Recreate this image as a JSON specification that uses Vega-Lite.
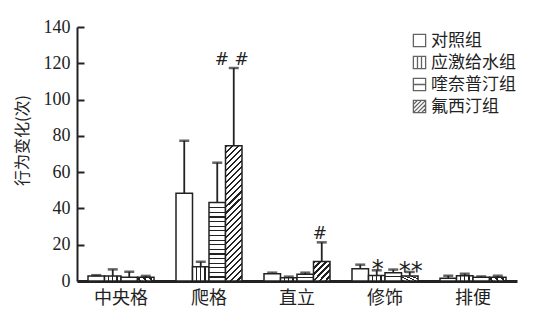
{
  "$schema": "https://vega.github.io/schema/vega-lite/v6.json",
  "width": 440,
  "height": 254,
  "autosize": "none",
  "padding": {"left": 77, "top": 27, "right": 25, "bottom": 41},
  "background": "white",
  "config": {
    "view": {"stroke": null},
    "axisY": {"labelOverlap": false, "labelFlush": false, "labelBound": false, "grid": false, "tickSize": -7, "tickWidth": 2, "tickColor": "#222", "domainWidth": 2, "domainColor": "#222", "labelFont": "Liberation Serif", "labelFontSize": 18, "labelColor": "#222", "labelPadding": 14}
  },
  "data": {
    "values": [
      {"cat": "中央格", "group": "对照组", "value": 2.8, "upper": 3.2, "sig": ""},
      {"cat": "中央格", "group": "应激给水组", "value": 2.8, "upper": 6.4, "sig": ""},
      {"cat": "中央格", "group": "喹奈普汀组", "value": 2.0, "upper": 5.1, "sig": ""},
      {"cat": "中央格", "group": "氟西汀组", "value": 2.0, "upper": 2.8, "sig": ""},
      {"cat": "爬格", "group": "对照组", "value": 48.3, "upper": 77.3, "sig": ""},
      {"cat": "爬格", "group": "应激给水组", "value": 7.9, "upper": 10.6, "sig": ""},
      {"cat": "爬格", "group": "喹奈普汀组", "value": 43.2, "upper": 65.2, "sig": ""},
      {"cat": "爬格", "group": "氟西汀组", "value": 74.6, "upper": 117.4, "sig": "# #"},
      {"cat": "直立", "group": "对照组", "value": 4.0, "upper": 4.6, "sig": ""},
      {"cat": "直立", "group": "应激给水组", "value": 1.8, "upper": 2.4, "sig": ""},
      {"cat": "直立", "group": "喹奈普汀组", "value": 3.7, "upper": 4.6, "sig": ""},
      {"cat": "直立", "group": "氟西汀组", "value": 10.8, "upper": 21.3, "sig": "#"},
      {"cat": "修饰", "group": "对照组", "value": 6.8, "upper": 9.0, "sig": ""},
      {"cat": "修饰", "group": "应激给水组", "value": 3.1, "upper": 5.9, "sig": "*"},
      {"cat": "修饰", "group": "喹奈普汀组", "value": 4.6, "upper": 6.3, "sig": ""},
      {"cat": "修饰", "group": "氟西汀组", "value": 2.8, "upper": 5.0, "sig": "**"},
      {"cat": "排便", "group": "对照组", "value": 1.5, "upper": 2.9, "sig": ""},
      {"cat": "排便", "group": "应激给水组", "value": 2.9, "upper": 4.0, "sig": ""},
      {"cat": "排便", "group": "喹奈普汀组", "value": 2.0, "upper": 2.5, "sig": ""},
      {"cat": "排便", "group": "氟西汀组", "value": 2.0, "upper": 2.9, "sig": ""}
    ]
  },
  "encoding": {
    "x": {
      "field": "cat", "type": "nominal", "sort": ["中央格", "爬格", "直立", "修饰", "排便"],
      "scale": {"paddingInner": 0.25, "paddingOuter": 0.125},
      "axis": {"title": null, "labelAngle": 0, "ticks": false, "domainWidth": 3, "domainColor": "#222", "labelFont": "Noto Sans CJK SC", "labelFontSize": 18, "labelColor": "#222", "labelPadding": 8}
    },
    "xOffset": {
      "field": "group", "type": "nominal", "sort": ["对照组", "应激给水组", "喹奈普汀组", "氟西汀组"],
      "scale": {"paddingInner": 0, "paddingOuter": 0}
    }
  },
  "layer": [
    {
      "mark": {"type": "bar", "stroke": "#222", "strokeWidth": 1.5},
      "encoding": {
        "y": {
          "field": "value", "type": "quantitative",
          "scale": {"domain": [0, 140], "nice": false},
          "axis": {
            "values": [0, 20, 40, 60, 80, 100, 120, 140], "labelOverlap": false, "labelSeparation": 0, "labelBound": false,
            "title": "行为变化(次)", "titleFont": "Noto Sans CJK SC", "titleFontSize": 16, "titleFontWeight": "normal", "titleColor": "#222",
            "titleX": -55, "titleY": 113, "titleBaseline": "middle", "titleAlign": "center", "titleAngle": -90
          }
        },
        "fill": {
          "value": "#ffffff",
          "condition": [
            {"test": "datum.group === '应激给水组'", "value": {"gradient": "linear", "x1": 0, "y1": 0, "x2": 1, "y2": 0, "stops": [
                {"offset": 0, "color": "#fff"}, {"offset": 0.22, "color": "#fff"}, {"offset": 0.22, "color": "#222"}, {"offset": 0.29, "color": "#222"}, {"offset": 0.29, "color": "#fff"},
                {"offset": 0.47, "color": "#fff"}, {"offset": 0.47, "color": "#222"}, {"offset": 0.54, "color": "#222"}, {"offset": 0.54, "color": "#fff"},
                {"offset": 0.72, "color": "#fff"}, {"offset": 0.72, "color": "#222"}, {"offset": 0.79, "color": "#222"}, {"offset": 0.79, "color": "#fff"}, {"offset": 1, "color": "#fff"}]}},
            {"test": "datum.cat === '爬格' && datum.group === '喹奈普汀组'", "value": {"gradient": "linear", "x1": 0, "y1": 0, "x2": 0, "y2": 1, "stops": [
              {"offset": 0, "color": "#fff"},
              {"offset": 0.0588, "color": "#fff"}, {"offset": 0.0588, "color": "#222"}, {"offset": 0.0738, "color": "#222"}, {"offset": 0.0738, "color": "#fff"},
              {"offset": 0.1176, "color": "#fff"}, {"offset": 0.1176, "color": "#222"}, {"offset": 0.1326, "color": "#222"}, {"offset": 0.1326, "color": "#fff"},
              {"offset": 0.1765, "color": "#fff"}, {"offset": 0.1765, "color": "#222"}, {"offset": 0.1915, "color": "#222"}, {"offset": 0.1915, "color": "#fff"},
              {"offset": 0.2353, "color": "#fff"}, {"offset": 0.2353, "color": "#222"}, {"offset": 0.2503, "color": "#222"}, {"offset": 0.2503, "color": "#fff"},
              {"offset": 0.2941, "color": "#fff"}, {"offset": 0.2941, "color": "#222"}, {"offset": 0.3091, "color": "#222"}, {"offset": 0.3091, "color": "#fff"},
              {"offset": 0.3529, "color": "#fff"}, {"offset": 0.3529, "color": "#222"}, {"offset": 0.3679, "color": "#222"}, {"offset": 0.3679, "color": "#fff"},
              {"offset": 0.4118, "color": "#fff"}, {"offset": 0.4118, "color": "#222"}, {"offset": 0.4268, "color": "#222"}, {"offset": 0.4268, "color": "#fff"},
              {"offset": 0.4706, "color": "#fff"}, {"offset": 0.4706, "color": "#222"}, {"offset": 0.4856, "color": "#222"}, {"offset": 0.4856, "color": "#fff"},
              {"offset": 0.5294, "color": "#fff"}, {"offset": 0.5294, "color": "#222"}, {"offset": 0.5444, "color": "#222"}, {"offset": 0.5444, "color": "#fff"},
              {"offset": 0.5882, "color": "#fff"}, {"offset": 0.5882, "color": "#222"}, {"offset": 0.6032, "color": "#222"}, {"offset": 0.6032, "color": "#fff"},
              {"offset": 0.6471, "color": "#fff"}, {"offset": 0.6471, "color": "#222"}, {"offset": 0.6621, "color": "#222"}, {"offset": 0.6621, "color": "#fff"},
              {"offset": 0.7059, "color": "#fff"}, {"offset": 0.7059, "color": "#222"}, {"offset": 0.7209, "color": "#222"}, {"offset": 0.7209, "color": "#fff"},
              {"offset": 0.7647, "color": "#fff"}, {"offset": 0.7647, "color": "#222"}, {"offset": 0.7797, "color": "#222"}, {"offset": 0.7797, "color": "#fff"},
              {"offset": 0.8235, "color": "#fff"}, {"offset": 0.8235, "color": "#222"}, {"offset": 0.8385, "color": "#222"}, {"offset": 0.8385, "color": "#fff"},
              {"offset": 0.8824, "color": "#fff"}, {"offset": 0.8824, "color": "#222"}, {"offset": 0.8974, "color": "#222"}, {"offset": 0.8974, "color": "#fff"},
              {"offset": 0.9412, "color": "#fff"}, {"offset": 0.9412, "color": "#222"}, {"offset": 0.9562, "color": "#222"}, {"offset": 0.9562, "color": "#fff"},
              {"offset": 1, "color": "#fff"}]}},
            {"test": "datum.group === '喹奈普汀组'", "value": {"gradient": "linear", "x1": 0, "y1": 0, "x2": 0, "y2": 1, "stops": [
                {"offset": 0, "color": "#fff"}, {"offset": 0.43, "color": "#fff"}, {"offset": 0.43, "color": "#222"}, {"offset": 0.57, "color": "#222"}, {"offset": 0.57, "color": "#fff"}, {"offset": 1, "color": "#fff"}]}},
            {"test": "datum.cat === '爬格' && datum.group === '氟西汀组'", "value": {"gradient": "linear", "x1": 0, "y1": 0, "x2": 0.134, "y2": 1.105, "stops": [
              {"offset": 0, "color": "#222"}, {"offset": 0.014, "color": "#222"}, {"offset": 0.014, "color": "#fff"}, {"offset": 0.04, "color": "#fff"},
              {"offset": 0.04, "color": "#222"}, {"offset": 0.054, "color": "#222"}, {"offset": 0.054, "color": "#fff"}, {"offset": 0.08, "color": "#fff"},
              {"offset": 0.08, "color": "#222"}, {"offset": 0.094, "color": "#222"}, {"offset": 0.094, "color": "#fff"}, {"offset": 0.12, "color": "#fff"},
              {"offset": 0.12, "color": "#222"}, {"offset": 0.134, "color": "#222"}, {"offset": 0.134, "color": "#fff"}, {"offset": 0.16, "color": "#fff"},
              {"offset": 0.16, "color": "#222"}, {"offset": 0.174, "color": "#222"}, {"offset": 0.174, "color": "#fff"}, {"offset": 0.2, "color": "#fff"},
              {"offset": 0.2, "color": "#222"}, {"offset": 0.214, "color": "#222"}, {"offset": 0.214, "color": "#fff"}, {"offset": 0.24, "color": "#fff"},
              {"offset": 0.24, "color": "#222"}, {"offset": 0.254, "color": "#222"}, {"offset": 0.254, "color": "#fff"}, {"offset": 0.28, "color": "#fff"},
              {"offset": 0.28, "color": "#222"}, {"offset": 0.294, "color": "#222"}, {"offset": 0.294, "color": "#fff"}, {"offset": 0.32, "color": "#fff"},
              {"offset": 0.32, "color": "#222"}, {"offset": 0.334, "color": "#222"}, {"offset": 0.334, "color": "#fff"}, {"offset": 0.36, "color": "#fff"},
              {"offset": 0.36, "color": "#222"}, {"offset": 0.374, "color": "#222"}, {"offset": 0.374, "color": "#fff"}, {"offset": 0.4, "color": "#fff"},
              {"offset": 0.4, "color": "#222"}, {"offset": 0.414, "color": "#222"}, {"offset": 0.414, "color": "#fff"}, {"offset": 0.44, "color": "#fff"},
              {"offset": 0.44, "color": "#222"}, {"offset": 0.454, "color": "#222"}, {"offset": 0.454, "color": "#fff"}, {"offset": 0.48, "color": "#fff"},
              {"offset": 0.48, "color": "#222"}, {"offset": 0.494, "color": "#222"}, {"offset": 0.494, "color": "#fff"}, {"offset": 0.52, "color": "#fff"},
              {"offset": 0.52, "color": "#222"}, {"offset": 0.534, "color": "#222"}, {"offset": 0.534, "color": "#fff"}, {"offset": 0.56, "color": "#fff"},
              {"offset": 0.56, "color": "#222"}, {"offset": 0.574, "color": "#222"}, {"offset": 0.574, "color": "#fff"}, {"offset": 0.6, "color": "#fff"},
              {"offset": 0.6, "color": "#222"}, {"offset": 0.614, "color": "#222"}, {"offset": 0.614, "color": "#fff"}, {"offset": 0.64, "color": "#fff"},
              {"offset": 0.64, "color": "#222"}, {"offset": 0.654, "color": "#222"}, {"offset": 0.654, "color": "#fff"}, {"offset": 0.68, "color": "#fff"},
              {"offset": 0.68, "color": "#222"}, {"offset": 0.694, "color": "#222"}, {"offset": 0.694, "color": "#fff"}, {"offset": 0.72, "color": "#fff"},
              {"offset": 0.72, "color": "#222"}, {"offset": 0.734, "color": "#222"}, {"offset": 0.734, "color": "#fff"}, {"offset": 0.76, "color": "#fff"},
              {"offset": 0.76, "color": "#222"}, {"offset": 0.774, "color": "#222"}, {"offset": 0.774, "color": "#fff"}, {"offset": 0.8, "color": "#fff"},
              {"offset": 0.8, "color": "#222"}, {"offset": 0.814, "color": "#222"}, {"offset": 0.814, "color": "#fff"}, {"offset": 0.84, "color": "#fff"},
              {"offset": 0.84, "color": "#222"}, {"offset": 0.854, "color": "#222"}, {"offset": 0.854, "color": "#fff"}, {"offset": 0.88, "color": "#fff"},
              {"offset": 0.88, "color": "#222"}, {"offset": 0.894, "color": "#222"}, {"offset": 0.894, "color": "#fff"}, {"offset": 0.92, "color": "#fff"},
              {"offset": 0.92, "color": "#222"}, {"offset": 0.934, "color": "#222"}, {"offset": 0.934, "color": "#fff"}, {"offset": 0.96, "color": "#fff"},
              {"offset": 0.96, "color": "#222"}, {"offset": 0.974, "color": "#222"}, {"offset": 0.974, "color": "#fff"}, {"offset": 1, "color": "#fff"}]}},
            {"test": "datum.group === '氟西汀组'", "value": {"gradient": "linear", "x1": 0, "y1": 0, "x2": 0.913, "y2": 1.074, "stops": [
                {"offset": 0, "color": "#222"}, {"offset": 0.06, "color": "#222"}, {"offset": 0.06, "color": "#fff"}, {"offset": 0.1667, "color": "#fff"},
                {"offset": 0.1667, "color": "#222"}, {"offset": 0.2267, "color": "#222"}, {"offset": 0.2267, "color": "#fff"}, {"offset": 0.3333, "color": "#fff"},
                {"offset": 0.3333, "color": "#222"}, {"offset": 0.3933, "color": "#222"}, {"offset": 0.3933, "color": "#fff"}, {"offset": 0.5, "color": "#fff"},
                {"offset": 0.5, "color": "#222"}, {"offset": 0.56, "color": "#222"}, {"offset": 0.56, "color": "#fff"}, {"offset": 0.6667, "color": "#fff"},
                {"offset": 0.6667, "color": "#222"}, {"offset": 0.7267, "color": "#222"}, {"offset": 0.7267, "color": "#fff"}, {"offset": 0.8333, "color": "#fff"},
                {"offset": 0.8333, "color": "#222"}, {"offset": 0.8933, "color": "#222"}, {"offset": 0.8933, "color": "#fff"}, {"offset": 1, "color": "#fff"}]}}
          ]
        }
      }
    },
    {
      "mark": {"type": "point", "filled": false, "color": "#222", "strokeWidth": 1.3, "size": 0},
      "encoding": {
        "y": {"field": "value", "type": "quantitative",
          "axis": {"values": [0, 20, 40, 60, 80, 100, 120, 140], "labelOverlap": false, "labelSeparation": 0, "labelBound": false, "title": "行为变化(次)"}},
        "shape": {
          "field": "group", "type": "nominal", "sort": ["对照组", "应激给水组", "喹奈普汀组", "氟西汀组"],
          "scale": {
            "domain": ["对照组", "应激给水组", "喹奈普汀组", "氟西汀组"],
            "range": [
              "M-1,-1H1V1H-1Z",
              "M-1,-1H1V1H-1Z M-0.33,-1V1 M0.33,-1V1",
              "M-1,-1H1V1H-1Z M-1,0H1",
              "M-1,-1H1V1H-1Z M-1,-0.33L-0.33,-1 M-1,0.33L0.33,-1 M-1,1L1,-1 M-0.33,1L1,-0.33 M0.33,1L1,0.33"
            ]
          },
          "legend": {
            "title": null, "orient": "none", "legendX": 334, "legendY": 5, "padding": 0,
            "symbolSize": 150, "symbolStrokeColor": "#222", "symbolStrokeWidth": 1.3, "symbolFillColor": "#ffffff",
            "labelFont": "Noto Sans CJK SC", "labelFontSize": 17, "labelColor": "#222", "labelOffset": 3, "rowPadding": 3
          }
        }
      }
    },
    {
      "mark": {"type": "rule", "color": "#222", "strokeWidth": 1.8},
      "encoding": {
        "y": {"field": "value", "type": "quantitative",
          "axis": {"values": [0, 20, 40, 60, 80, 100, 120, 140], "labelOverlap": false, "labelSeparation": 0, "labelBound": false, "title": "行为变化(次)"}},
        "y2": {"field": "upper"}
      }
    },
    {
      "mark": {"type": "tick", "color": "#222", "size": 10, "thickness": 2.5, "orient": "horizontal"},
      "encoding": {
        "y": {"field": "upper", "type": "quantitative",
          "axis": {"values": [0, 20, 40, 60, 80, 100, 120, 140], "labelOverlap": false, "labelSeparation": 0, "labelBound": false, "title": "行为变化(次)"}}
      }
    },
    {
      "transform": [{"filter": "indexof(datum.sig, '#') >= 0"}],
      "mark": {"type": "text", "font": "DejaVu Sans", "fontSize": 17, "color": "#222", "baseline": "alphabetic", "dy": -3, "dx": -2},
      "encoding": {
        "y": {"field": "upper", "type": "quantitative",
          "axis": {"values": [0, 20, 40, 60, 80, 100, 120, 140], "labelOverlap": false, "labelSeparation": 0, "labelBound": false, "title": "行为变化(次)"}},
        "text": {"field": "sig"}
      }
    },
    {
      "transform": [{"filter": "indexof(datum.sig, '*') >= 0"}],
      "mark": {"type": "text", "font": "DejaVu Sans", "fontSize": 24, "color": "#222", "baseline": "alphabetic", "dy": 7, "dx": 1},
      "encoding": {
        "y": {"field": "upper", "type": "quantitative",
          "axis": {"values": [0, 20, 40, 60, 80, 100, 120, 140], "labelOverlap": false, "labelSeparation": 0, "labelBound": false, "title": "行为变化(次)"}},
        "text": {"field": "sig"}
      }
    }
  ]
}
